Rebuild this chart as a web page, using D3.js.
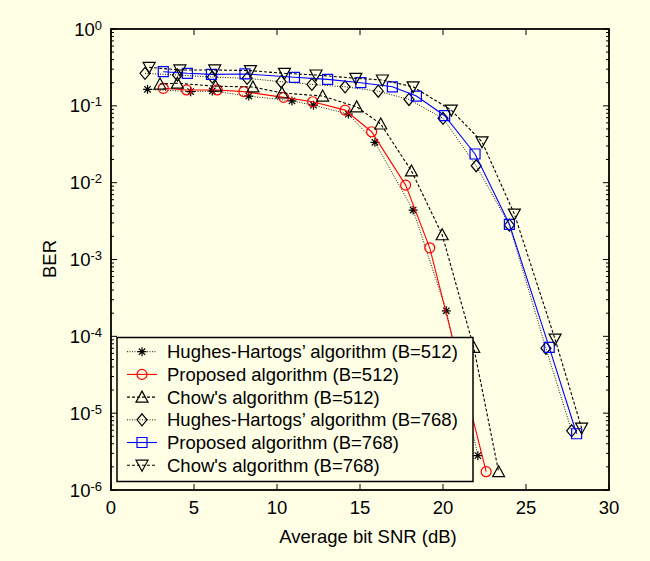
<!DOCTYPE html>
<html>
<head>
<meta charset="utf-8">
<script src="https://cdn.jsdelivr.net/npm/d3@7"></script>
<style>
  body { margin: 0; background: #ffffe6; }
  svg { display: block; }
  text { font-family: "Liberation Sans", Arial, sans-serif; fill: #000; }
</style>
</head>
<body>
<svg id="chart" width="650" height="561"></svg>
<script>
// data
const hh512Snr   = [2.2, 4.8, 6.1, 8.3, 10.9, 12.2, 14.3, 15.9, 18.2, 20.2, 22.1];
const hh512Ber   = [0.164, 0.153, 0.156, 0.134, 0.116, 0.102, 0.078, 0.0335, 0.0044, 0.000215, 2.8e-6];

const prop512Snr = [3.15, 4.55, 6.4, 8.0, 10.4, 12.15, 14.1, 15.7, 17.75, 19.2, 20.9, 22.6];
const prop512Ber = [0.169, 0.161, 0.161, 0.153, 0.129, 0.113, 0.088, 0.046, 0.0093, 0.00142, 5e-5, 1.73e-6];

const chow512Snr = [2.95, 4.0, 6.3, 8.55, 10.3, 12.75, 14.8, 16.25, 18.1, 19.95, 21.85, 23.35];
const chow512Ber = [0.192, 0.197, 0.18, 0.176, 0.147, 0.134, 0.097, 0.058, 0.0142, 0.0021, 7.2e-5, 1.73e-6];

const hh768Snr   = [2.05, 4.0, 6.1, 8.2, 10.25, 12.1, 14.1, 16.1, 17.95, 20.0, 22.0, 24.0, 26.2, 27.75];
const hh768Ber   = [0.265, 0.252, 0.237, 0.228, 0.206, 0.19, 0.177, 0.155, 0.121, 0.0688, 0.0166, 0.0028, 7e-5, 5.9e-6];

const prop768Snr = [3.15, 4.6, 6.05, 8.07, 11.05, 13.05, 15.05, 16.95, 18.4, 20.1, 21.93, 24.0, 26.4, 28.05];
const prop768Ber = [0.278, 0.265, 0.257, 0.26, 0.235, 0.221, 0.2, 0.177, 0.134, 0.0744, 0.0236, 0.00287, 7.2e-5, 5.4e-6];

const chow768Snr = [2.3, 4.15, 6.25, 8.4, 10.45, 12.35, 14.75, 16.35, 18.2, 20.5, 22.35, 24.3, 26.75, 28.35];
const chow768Ber = [0.317, 0.293, 0.293, 0.287, 0.265, 0.252, 0.228, 0.217, 0.177, 0.088, 0.034, 0.0039, 9.2e-5, 6.4e-6];

const xTicks = [0, 5, 10, 15, 20, 25, 30];
const yExps  = [0, -1, -2, -3, -4, -5, -6];

const seriesNames = [
  "Hughes-Hartogs\u2019 algorithm (B=512)",
  "Proposed algorithm (B=512)",
  "Chow's algorithm (B=512)",
  "Hughes-Hartogs\u2019 algorithm (B=768)",
  "Proposed algorithm (B=768)",
  "Chow's algorithm (B=768)"
];

const series = [
  {name: seriesNames[0], snr: hh512Snr,   ber: hh512Ber,   color: "#000", dash: "1,1.5", marker: "star"},
  {name: seriesNames[1], snr: prop512Snr, ber: prop512Ber, color: "#ff0000", dash: null, marker: "circle"},
  {name: seriesNames[2], snr: chow512Snr, ber: chow512Ber, color: "#000", dash: "3,2", marker: "tri"},
  {name: seriesNames[3], snr: hh768Snr,   ber: hh768Ber,   color: "#000", dash: "1,1.5", marker: "diamond"},
  {name: seriesNames[4], snr: prop768Snr, ber: prop768Ber, color: "#0000ff", dash: null, marker: "square"},
  {name: seriesNames[5], snr: chow768Snr, ber: chow768Ber, color: "#000", dash: "3,2", marker: "invtri"}
];

const pLeft = 111, pRight = 609, pTop = 29, pBottom = 490;
const fs = 18.5;
const x = d3.scaleLinear().domain([0, 30]).range([pLeft, pRight]);
const y = d3.scaleLog().domain([1e-6, 1]).range([pBottom, pTop]);

const svg = d3.select("#chart");

svg.append("rect").attr("width", 650).attr("height", 561).attr("fill", "#ffffe6");

// marker paths centred at 0,0
function markerPath(type) {
  if (type === "circle") return d3.symbol().type(d3.symbolCircle).size(Math.PI * 25)();
  if (type === "square") return "M-5,-5H5V5H-5Z";
  if (type === "diamond") return "M0,-6L5,0L0,6L-5,0Z";
  if (type === "tri") return "M0,-6L6,5L-6,5Z";
  if (type === "invtri") return "M0,6L6,-5L-6,-5Z";
  if (type === "star") return "M-4.5,0H4.5M0,-4.5V4.5M-3.2,-3.2L3.2,3.2M-3.2,3.2L3.2,-3.2";
}

// clip to plot area
svg.append("clipPath").attr("id", "clip")
  .append("rect").attr("x", pLeft).attr("y", pTop).attr("width", pRight - pLeft).attr("height", pBottom - pTop);

const plot = svg.append("g").attr("clip-path", "url(#clip)");

series.forEach(function(s) {
  const pts = s.snr.map(function(v, i) { return [v, s.ber[i]]; });
  const line = d3.line().x(function(d) { return x(d[0]); }).y(function(d) { return y(d[1]); });
  plot.append("path")
    .attr("d", line(pts))
    .attr("fill", "none")
    .attr("stroke", s.color)
    .attr("stroke-width", s.dash === "1,1.5" ? 0.9 : 1.1)
    .attr("stroke-dasharray", s.dash);
  plot.selectAll(null).data(pts).enter().append("path")
    .attr("d", markerPath(s.marker))
    .attr("transform", function(d) { return "translate(" + x(d[0]) + "," + y(d[1]) + ")"; })
    .attr("fill", "none")
    .attr("stroke", s.color)
    .attr("stroke-width", 1.2);
});

// ticks
const axes = svg.append("g").attr("stroke", "#000").attr("stroke-width", 1);
xTicks.forEach(function(t) {
  axes.append("line").attr("x1", x(t)).attr("x2", x(t)).attr("y1", pBottom).attr("y2", pBottom - 6);
  axes.append("line").attr("x1", x(t)).attr("x2", x(t)).attr("y1", pTop).attr("y2", pTop + 6);
});
yExps.forEach(function(e) {
  const v = Math.pow(10, e);
  axes.append("line").attr("x1", pLeft).attr("x2", pLeft + 6).attr("y1", y(v)).attr("y2", y(v));
  axes.append("line").attr("x1", pRight).attr("x2", pRight - 6).attr("y1", y(v)).attr("y2", y(v));
  if (e > -6) {
    for (let m = 2; m <= 9; m++) {
      const mv = m * v / 10;
      axes.append("line").attr("x1", pLeft).attr("x2", pLeft + 3).attr("y1", y(mv)).attr("y2", y(mv));
      axes.append("line").attr("x1", pRight).attr("x2", pRight - 3).attr("y1", y(mv)).attr("y2", y(mv));
    }
  }
});

svg.append("rect")
  .attr("x", pLeft).attr("y", pTop).attr("width", pRight - pLeft).attr("height", pBottom - pTop)
  .attr("fill", "none").attr("stroke", "#000").attr("stroke-width", 1.8);

// tick labels
xTicks.forEach(function(t) {
  svg.append("text").attr("x", x(t)).attr("y", 513.5)
    .attr("text-anchor", "middle").attr("font-size", fs).text(t);
});
yExps.forEach(function(e) {
  const t = svg.append("text").attr("x", 102).attr("y", y(Math.pow(10, e)) + 6.5)
    .attr("text-anchor", "end").attr("font-size", fs);
  t.append("tspan").text("10");
  t.append("tspan").attr("dy", -6).attr("font-size", 13).text(e);
});

svg.append("text").attr("x", 368).attr("y", 543).attr("text-anchor", "middle")
  .attr("font-size", fs).text("Average bit SNR (dB)");
svg.append("text").attr("transform", "translate(55.5,259) rotate(-90)")
  .attr("text-anchor", "middle").attr("font-size", fs).text("BER");

// legend
const lg = svg.append("g");
lg.append("rect").attr("x", 117).attr("y", 337.5).attr("width", 356).attr("height", 144)
  .attr("fill", "#ffffe6").attr("stroke", "#000").attr("stroke-width", 1.5);
series.forEach(function(s, i) {
  const ry = 351.7 + i * 22.7;
  lg.append("line").attr("x1", 127).attr("x2", 157).attr("y1", ry).attr("y2", ry)
    .attr("stroke", s.color).attr("stroke-width", s.dash === "1,1.5" ? 0.9 : 1.1)
    .attr("stroke-dasharray", s.dash);
  lg.append("path").attr("d", markerPath(s.marker))
    .attr("transform", "translate(142," + ry + ")")
    .attr("fill", "none").attr("stroke", s.color).attr("stroke-width", 1.2);
  lg.append("text").attr("x", 167).attr("y", ry + 6.6).attr("font-size", fs).text(s.name);
});
</script>
</body>
</html>
